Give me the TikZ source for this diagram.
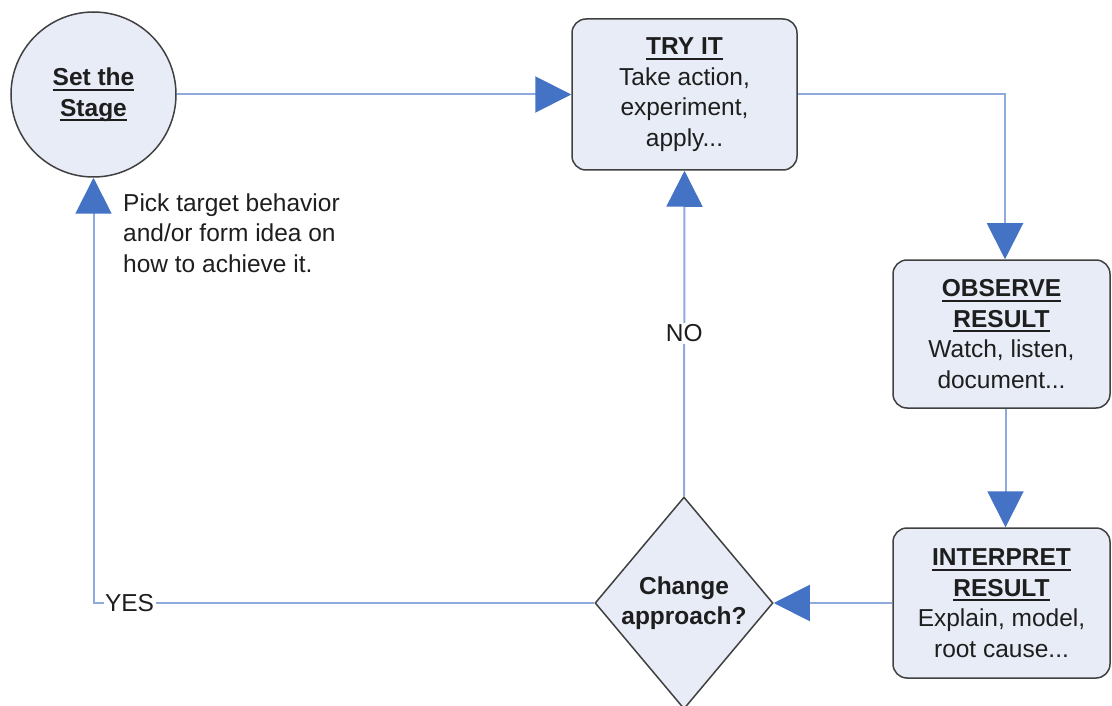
\documentclass[tikz,border=0pt]{standalone}
\usepackage{fontspec}
\setmainfont{Liberation Sans}
\usetikzlibrary{arrows.meta,shapes.geometric}
\definecolor{linecol}{RGB}{143,170,220}
\definecolor{tipcol}{RGB}{68,114,196}
\definecolor{boxfill}{RGB}{231,236,247}
\definecolor{boxdraw}{RGB}{64,64,64}
\definecolor{txt}{RGB}{30,30,30}
\newsavebox\ulbox
\newcommand{\ulin}[1]{\sbox\ulbox{#1}\rlap{\rule[-5pt]{\wd\ulbox}{2pt}}\usebox\ulbox}
\begin{document}
\begin{tikzpicture}[x=1pt,y=-1pt,
  font=\fontsize{24.5}{30.5}\selectfont, text=txt,
  shapebase/.style={draw=boxdraw, line width=1.5pt, fill=boxfill, align=center, inner sep=0pt},
  box/.style={shapebase, rounded corners=14pt},
  boldtext/.style={font=\bfseries\fontsize{24.5}{30.5}\selectfont},
  conn/.style={draw=linecol, line width=2pt, -{Triangle[length=36pt,width=36pt,color=tipcol]}},
  lbl/.style={fill=white, inner sep=1.5pt}]
\useasboundingbox (0,0) rectangle (1112,706);

\node[shapebase, circle, minimum size=165pt, boldtext] (stage) at (93.5,94.5) {\ulin{Set the}\\\ulin{Stage}};
\node[box, minimum width=225pt, minimum height=151pt] (try) at (684.5,94.5) {\textbf{\ulin{TRY IT}}\\Take action,\\experiment,\\apply...};
\node[box, minimum width=217pt, minimum height=148pt] (obs) at (1001.5,334) {\textbf{\ulin{OBSERVE}}\\\textbf{\ulin{RESULT}}\\Watch, listen,\\document...};
\node[box, minimum width=217pt, minimum height=150pt] (int) at (1001.5,603) {\textbf{\ulin{INTERPRET}}\\\textbf{\ulin{RESULT}}\\Explain, model,\\root cause...};
\node[shapebase, diamond, aspect=0.84, minimum width=178pt, minimum height=212pt, boldtext] (dec) at (684,603) {Change\\approach?};

\node[anchor=base west, align=left, inner sep=0pt] (pick) at (123,272) {Pick target behavior\\and/or form idea on\\how to achieve it.};

\draw[conn] (stage.east) -- (try.west);
\draw[conn] (try.east) -| ([xshift=3.5pt]obs.north);
\draw[conn] ([xshift=4pt]obs.south) -- ([xshift=4pt]int.north);
\draw[conn] (int.west) -- (dec.east);
\draw[conn] (dec.north) -- node[lbl] (no) {NO} (try.south);
\draw[conn] (dec.west) -- node[lbl, pos=0.928] (yes) {YES} (stage.south |- dec.west) -- (stage.south);
\end{tikzpicture}
\end{document}
